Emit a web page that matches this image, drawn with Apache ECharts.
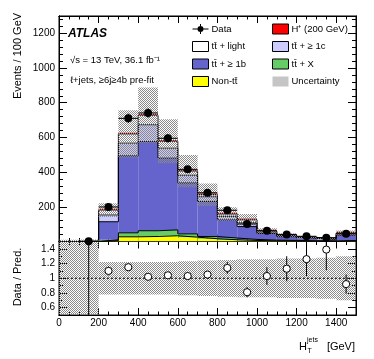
<!DOCTYPE html>
<html>
<head>
<meta charset="utf-8">
<script src="https://cdn.jsdelivr.net/npm/echarts@6.0.0/dist/echarts.min.js"></script>
<style>
  html, body { margin: 0; padding: 0; background: #fff; }
  #chart { width: 374px; height: 359px; }
</style>
</head>
<body>
<div id="chart"></div>
<script>
// HT(jets) bins, 100 GeV wide, last bin includes overflow
const binEdges = [0, 100, 200, 300, 400, 500, 600, 700, 800, 900, 1000, 1100, 1200, 1300, 1400, 1500];

const dataCounts = [null, 1, 199, 710, 741, 595, 416, 281, 180, 101, 62, 41, 30, 22, 45];
const dataErr    = [null, 1, 14, 27, 27, 24, 20, 17, 13, 10, 8, 6.4, 5.5, 4.7, 6.7];

// stacked predictions, bottom to top
const nonTT   = [0, 0.2, 5, 27, 29, 33, 25, 16, 10, 6, 4, 3, 2, 1.5, 3];
const ttX     = [0, 0.2, 5, 23, 33, 34, 19, 13, 10, 6, 4, 3, 2, 1.5, 3];
const tt1b    = [0, 1, 104, 444, 514, 414, 294, 202, 105, 74, 38, 22, 14, 9, 31];
const tt1c    = [0, 0.1, 39, 73, 97, 57, 44, 27, 20, 22, 8, 5, 3, 2, 7];
const ttLight = [0, 0.1, 28, 53, 55, 40, 24, 12, 13, 17, 6, 3, 3, 2, 5];
const hPlus   = [0, 0, 2, 4, 4, 3, 2, 1, 1, 0.5, 0.5, 0.3, 0.2, 0.2, 0.3];
const mainUnc = [10, 10, 40, 136, 160, 127, 93, 65, 40, 33, 16, 10, 6.5, 4.5, 15];

// ratio panel
const ratioVal = [null, 2.0, 1.10, 1.15, 1.02, 1.04, 1.03, 1.05, 1.14, 0.81, 1.03, 1.13, 1.26, 1.39, 0.92];
const ratioErr = [null, 1.6, 0.06, 0.03, 0.03, 0.03, 0.03, 0.04, 0.08, 0.07, 0.12, 0.17, 0.23, 0.28, 0.13];
const ratioUnc = [1, 1, 0.22, 0.22, 0.22, 0.22, 0.23, 0.24, 0.25, 0.26, 0.26, 0.27, 0.27, 0.28, 0.30];
const ratioTicks = [0.6, 0.8, 1, 1.2, 1.4];

const TT = 't\u0074\u0304';
const FONT = '"Liberation Sans", Arial, sans-serif';

const colors = {
  nonTT: '#ffff00',
  ttX: '#66cc66',
  tt1b: '#6464cc',
  tt1c: '#ccccff',
  ttLight: '#ffffff',
  hPlus: '#ff0000'
};

// grey dotted hatch like ROOT fill style
const hatch = document.createElement('canvas');
hatch.width = 4; hatch.height = 4;
const hctx = hatch.getContext('2d');
hctx.fillStyle = '#8a8a8a';
for (let y = 0; y < 4; y++) {
  for (let x = 0; x < 4; x++) {
    if ((x + y) % 2 === 0) hctx.fillRect(x, y, 1, 1);
  }
}
const hatchFill = { image: hatch, repeat: 'repeat' };

// cumulative stack
const layers = [
  { name: 'Non-' + TT, vals: nonTT, color: colors.nonTT },
  { name: TT + ' + X', vals: ttX, color: colors.ttX },
  { name: TT + ' + \u2265 1b', vals: tt1b, color: colors.tt1b },
  { name: TT + ' + \u2265 1c', vals: tt1c, color: colors.tt1c },
  { name: TT + ' + light', vals: ttLight, color: colors.ttLight },
  { name: 'H\u207A (200 GeV)', vals: hPlus, color: colors.hPlus, minH: 1.3 }
];
let base = binEdges.slice(0, -1).map(() => 0);
const totals = [];
layers.forEach((ly, k) => {
  ly.rows = ly.vals.map((v, i) => [binEdges[i], binEdges[i + 1], base[i], base[i] + v]);
  base = base.map((b, i) => b + ly.vals[i]);
  ly.top = base.slice();
  if (k === 4) totals.push(...base);
});

function boxRenderer(fill, minH) {
  return function (params, api) {
    const a = api.coord([api.value(0), api.value(3)]);
    const b = api.coord([api.value(1), api.value(2)]);
    let h = b[1] - a[1];
    let y = a[1];
    if (minH && api.value(3) > api.value(2) && h < minH) { y = b[1] - minH; h = minH; }
    return {
      type: 'rect',
      shape: { x: a[0], y: y, width: b[0] - a[0], height: h },
      style: { fill: fill }
    };
  };
}

function stepLine(top) {
  const pts = top.map((v, i) => [binEdges[i], v]);
  pts.push([binEdges[binEdges.length - 1], top[top.length - 1]]);
  return pts;
}

const series = [];
layers.forEach((ly) => {
  series.push({
    name: ly.name,
    type: 'custom',
    xAxisIndex: 0, yAxisIndex: 0,
    renderItem: boxRenderer(ly.color, ly.minH),
    itemStyle: { color: ly.color },
    encode: { x: [0, 1], y: [2, 3] },
    data: ly.rows,
    clip: true,
    silent: true,
    z: 2
  });
  if (!ly.minH) {
    series.push({
      type: 'line',
      xAxisIndex: 0, yAxisIndex: 0,
      step: 'end',
      symbol: 'none',
      lineStyle: { color: '#000', width: 1 },
      data: stepLine(ly.top),
      silent: true,
      z: 3
    });
  }
});

// uncertainty band on total prediction
series.push({
  name: 'Uncertainty',
  type: 'custom',
  xAxisIndex: 0, yAxisIndex: 0,
  renderItem: boxRenderer(hatchFill),
  itemStyle: { color: hatchFill },
  encode: { x: [0, 1], y: [2, 3] },
  data: totals.map((t, i) => [binEdges[i], binEdges[i + 1], t - mainUnc[i], t + mainUnc[i]]),
  clip: true,
  silent: true,
  z: 4
});

// data points
series.push({
  name: 'Data',
  type: 'custom',
  xAxisIndex: 0, yAxisIndex: 0,
  itemStyle: { color: '#000' },
  data: dataCounts.map((v, i) => v === null ? null : [(binEdges[i] + binEdges[i + 1]) / 2, v, dataErr[i], binEdges[i], binEdges[i + 1]])
    .filter((d) => d !== null),
  encode: { x: 0, y: 1 },
  renderItem: function (params, api) {
    const x = api.value(0), y = api.value(1), e = api.value(2);
    const c = api.coord([x, y]);
    const l = api.coord([api.value(3), y]);
    const r = api.coord([api.value(4), y]);
    const t = api.coord([x, y + e]);
    const b = api.coord([x, Math.max(0, y - e)]);
    return {
      type: 'group',
      children: [
        { type: 'line', shape: { x1: l[0], y1: c[1], x2: r[0], y2: c[1] }, style: { stroke: '#000', lineWidth: 1 } },
        { type: 'line', shape: { x1: c[0], y1: t[1], x2: c[0], y2: b[1] }, style: { stroke: '#000', lineWidth: 1 } },
        { type: 'circle', shape: { cx: c[0], cy: c[1], r: 4 }, style: { fill: '#000' } }
      ]
    };
  },
  clip: false,
  silent: true,
  z: 6
});

// ratio panel: band, reference line, points
series.push({
  type: 'custom',
  xAxisIndex: 4, yAxisIndex: 4,
  renderItem: boxRenderer(hatchFill),
  encode: { x: [0, 1], y: [2, 3] },
  data: ratioUnc.map((u, i) => [binEdges[i], binEdges[i + 1], 1 - u, 1 + u]),
  clip: true,
  silent: true,
  z: 2
});
series.push({
  type: 'line',
  xAxisIndex: 4, yAxisIndex: 4,
  symbol: 'none',
  lineStyle: { color: '#000', width: 1, type: [2, 2] },
  data: [[0, 1], [1500, 1]],
  silent: true,
  z: 3
});
series.push({
  type: 'custom',
  xAxisIndex: 4, yAxisIndex: 4,
  data: ratioVal.map((v, i) => v === null ? null : [(binEdges[i] + binEdges[i + 1]) / 2, v, ratioErr[i]])
    .filter((d) => d !== null),
  encode: { x: 0, y: 1 },
  renderItem: function (params, api) {
    const x = api.value(0), y = api.value(1), e = api.value(2);
    const c = api.coord([x, y]);
    const t = api.coord([x, y + e]);
    const b = api.coord([x, y - e]);
    return {
      type: 'group',
      children: [
        { type: 'line', shape: { x1: c[0], y1: t[1], x2: c[0], y2: b[1] }, style: { stroke: '#000', lineWidth: 1 } },
        { type: 'circle', shape: { cx: c[0], cy: c[1], r: 3.6 }, style: { fill: '#fff', stroke: '#000', lineWidth: 1 } }
      ]
    };
  },
  clip: true,
  silent: true,
  z: 5
});

// axes: major / minor ticks on all four sides, ROOT style
function ax(gridIndex, position, min, max, opt) {
  opt = opt || {};
  return {
    type: 'value',
    gridIndex: gridIndex,
    position: position,
    min: min,
    max: max,
    interval: opt.interval,
    axisLine: { show: true, onZero: false, lineStyle: { color: '#000', width: 1 } },
    axisTick: Object.assign({ show: true, inside: true, length: opt.tick || 4, lineStyle: { color: '#000', width: 1 } },
      opt.tickValues ? { customValues: opt.tickValues } : {}),
    axisLabel: opt.label ? Object.assign({ show: true, color: '#000', fontSize: 10, fontFamily: FONT, margin: 4 }, opt.label) : { show: false },
    splitLine: { show: false }
  };
}

const mainGrid = { left: 59, right: 18, top: 16, height: 225.5 };
const ratioGrid = { left: 59, right: 18, top: 241.5, height: 73.5 };

const xAxis = [
  ax(0, 'bottom', 0, 1500, { interval: 200, tick: 7 }),
  ax(0, 'top', 0, 1500, { interval: 200, tick: 7 }),
  ax(1, 'bottom', 0, 1500, { interval: 50, tick: 3.5 }),
  ax(1, 'top', 0, 1500, { interval: 50, tick: 3.5 }),
  ax(2, 'bottom', 0, 1500, { interval: 200, tick: 7, label: { margin: 3, formatter: (v) => v > 1450 ? '' : String(v) } }),
  ax(2, 'top', 0, 1500, { interval: 200, tick: 7 }),
  ax(3, 'bottom', 0, 1500, { interval: 50, tick: 3.5 }),
  ax(3, 'top', 0, 1500, { interval: 50, tick: 3.5 })
];
const yAxis = [
  ax(0, 'left', 0, 1300, { interval: 200, tick: 8, label: { formatter: (v) => (v === 0 || v > 1250) ? '' : String(v) } }),
  ax(0, 'right', 0, 1300, { interval: 200, tick: 8 }),
  ax(1, 'left', 0, 1300, { interval: 40, tick: 4 }),
  ax(1, 'right', 0, 1300, { interval: 40, tick: 4 }),
  ax(2, 'left', 0.5, 1.5, { tick: 8, tickValues: ratioTicks, label: { customValues: ratioTicks, formatter: (v) => String(+(+v).toFixed(1)) } }),
  ax(2, 'right', 0.5, 1.5, { tick: 8, tickValues: ratioTicks }),
  ax(3, 'left', 0.5, 1.5, { interval: 0.1, tick: 4 }),
  ax(3, 'right', 0.5, 1.5, { interval: 0.1, tick: 4 })
];

const legendBase = {
  orient: 'vertical',
  itemWidth: 16,
  itemHeight: 10,
  itemGap: 5.5,
  selectedMode: false,
  textStyle: { fontSize: 9.5, fontFamily: FONT, color: '#000', lineHeight: 12, padding: [0, 0, 0, -2] },
  itemStyle: { borderColor: '#000', borderWidth: 1 }
};
const dataIcon = 'path://M0,4.5H16V5.5H0Z M7.5,0H8.5V10H7.5Z M11,5A3,3,0,1,1,5,5A3,3,0,1,1,11,5Z';

const option = {
  animation: false,
  backgroundColor: '#fff',
  grid: [
    Object.assign({ show: true, borderColor: '#000', borderWidth: 1 }, mainGrid),
    Object.assign({ show: false }, mainGrid),
    Object.assign({ show: true, borderColor: '#000', borderWidth: 1 }, ratioGrid),
    Object.assign({ show: false }, ratioGrid)
  ],
  xAxis: xAxis,
  yAxis: yAxis,
  legend: [
    Object.assign({}, legendBase, {
      left: 187, top: 18,
      data: [
        { name: 'Data', icon: dataIcon, itemStyle: { borderWidth: 0 } },
        { name: TT + ' + light', icon: 'rect' },
        { name: TT + ' + \u2265 1b', icon: 'rect' },
        { name: 'Non-' + TT, icon: 'rect' }
      ]
    }),
    Object.assign({}, legendBase, {
      left: 267, top: 18,
      data: [
        { name: 'H\u207A (200 GeV)', icon: 'rect' },
        { name: TT + ' + \u2265 1c', icon: 'rect' },
        { name: TT + ' + X', icon: 'rect' },
        { name: 'Uncertainty', icon: 'rect', itemStyle: { borderWidth: 0 } }
      ]
    })
  ],
  graphic: [
    { type: 'text', x: 68, y: 34, style: { text: 'ATLAS', font: 'italic bold 12px ' + FONT, fill: '#000', verticalAlign: 'middle' } },
    { type: 'text', x: 70, y: 60, style: { text: '\u221As = 13 TeV, 36.1 fb\u207B\u00B9', font: '9.5px ' + FONT, fill: '#000', verticalAlign: 'middle' } },
    { type: 'text', x: 70, y: 80, style: { text: '\u2113+jets, \u22656j\u22654b pre-fit', font: '9.5px ' + FONT, fill: '#000', verticalAlign: 'middle' } },
    { type: 'text', x: 18, y: 56, rotation: Math.PI / 2, style: { text: 'Events / 100 GeV', font: '11px ' + FONT, fill: '#000', align: 'center', verticalAlign: 'middle' } },
    { type: 'text', x: 18, y: 277, rotation: Math.PI / 2, style: { text: 'Data / Pred.', font: '11px ' + FONT, fill: '#000', align: 'center', verticalAlign: 'middle' } },
    { type: 'text', x: 299, y: 347, style: { text: 'H', font: '11px ' + FONT, fill: '#000', verticalAlign: 'middle' } },
    { type: 'text', x: 307, y: 340, style: { text: 'jets', font: '7px ' + FONT, fill: '#000', verticalAlign: 'middle' } },
    { type: 'text', x: 307.5, y: 351, style: { text: 'T', font: '7px ' + FONT, fill: '#000', verticalAlign: 'middle' } },
    { type: 'text', x: 355, y: 347, style: { text: '[GeV]', font: '11px ' + FONT, fill: '#000', align: 'right', verticalAlign: 'middle' } }
  ],
  series: series
};

const myChart = echarts.init(document.getElementById('chart'), null, { renderer: 'canvas' });
myChart.setOption(option);
</script>
</body>
</html>
